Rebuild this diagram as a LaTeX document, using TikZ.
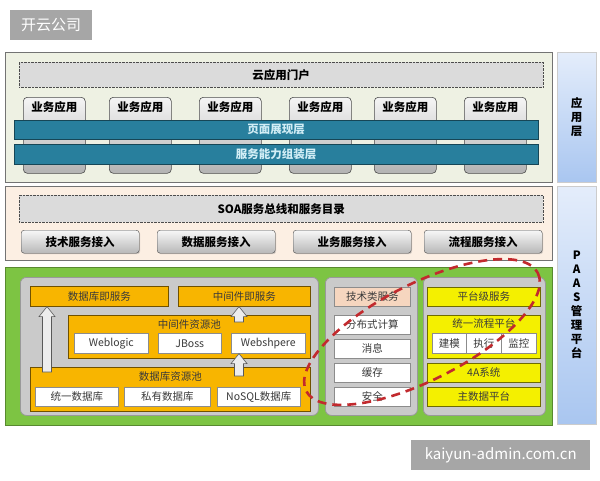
\documentclass[tikz,border=0pt]{standalone}
\usepackage{fontspec}
\setmainfont{Noto Sans CJK SC}
\usetikzlibrary{calc,shadows}

\definecolor{appback}{HTML}{EEF1E3}
\definecolor{soaback}{HTML}{FCEFE3}
\definecolor{paasgreen}{HTML}{7DC443}
\definecolor{barteal}{HTML}{287F9D}
\definecolor{bartext}{HTML}{D2EEF6}
\definecolor{panelgray}{HTML}{CACACA}
\definecolor{dborange}{HTML}{F8B500}
\definecolor{platyellow}{HTML}{F4F000}
\definecolor{techpeach}{HTML}{F6D6BF}
\definecolor{sidetop}{HTML}{E4EDFB}
\definecolor{sidebottom}{HTML}{A9C6F0}
\definecolor{loopred}{HTML}{C22A2E}
\definecolor{markgray}{HTML}{A6A6A6}
\definecolor{textgray}{HTML}{3A3A3A}

\tikzstyle{box}=[draw, anchor=north west, inner sep=0pt]
\tikzstyle{layer}=[box, draw=black!55, line width=0.8pt]
\tikzstyle{dotbox}=[box, draw=black!70, densely dotted, fill=black!14,
    font=\bfseries\fontsize{11.5}{14}\selectfont]
\tikzstyle{appbox}=[box, rounded corners=4pt, draw=black!70, line width=0.6pt,
    top color=black!4, bottom color=black!30]
\tikzstyle{apptext}=[anchor=north, inner sep=0pt, yshift=-4pt,
    font=\bfseries\fontsize{11.5}{14}\selectfont]
\tikzstyle{bar}=[box, fill=barteal, draw=barteal!55!black, text=bartext,
    font=\bfseries\fontsize{11.5}{14}\selectfont]
\tikzstyle{accbox}=[box, rounded corners=3pt, draw=black!70, top color=black!3,
    bottom color=black!28, font=\bfseries\fontsize{11.5}{14}\selectfont,
    drop shadow={opacity=0.3, shadow xshift=1pt, shadow yshift=-1pt}]
\tikzstyle{sidebar}=[box, draw=black!20, top color=sidetop, bottom color=sidebottom,
    align=center, font=\bfseries\fontsize{11.5}{14}\selectfont]
\tikzstyle{subpanel}=[box, rounded corners=6pt, fill=panelgray, draw=black!40, line width=0.8pt]
\tikzstyle{dbbox}=[box, fill=dborange, draw=black!55!dborange, line width=0.6pt,
    text=textgray, font=\fontsize{10.5}{12}\selectfont]
\tikzstyle{whitebox}=[box, fill=white, draw=black!45, line width=0.6pt,
    text=textgray, font=\fontsize{10.5}{12}\selectfont]
\tikzstyle{yellowbox}=[dbbox, fill=platyellow, draw=black!55!platyellow]
\tikzstyle{pooltext}=[anchor=north, inner sep=0pt, yshift=-4pt, text=textgray,
    font=\fontsize{10.5}{12}\selectfont]
\tikzstyle{tagbox}=[box, draw=none, fill=markgray, text=white]

\newcommand\liftarrow[2]{%
  \filldraw[blockarrow] ($(#1)+(-4.5,0)$) -- ($(#2)+(-4.5,10)$) -- ($(#2)+(-8,10)$)
    -- (#2) -- ($(#2)+(8,10)$) -- ($(#2)+(4.5,10)$) -- ($(#1)+(4.5,0)$) -- cycle;}

\begin{document}
\begin{tikzpicture}[x=1pt, y=-1pt]
    \tikzstyle{blockarrow}=[draw=black!65, line width=0.6pt, fill=black!7]
    \tikzstyle{redloop}=[draw=loopred, line width=2.6pt, dash pattern=on 9pt off 6pt]

  \useasboundingbox[fill=white] (0,0) rectangle (600,480);

  % marks
  \node[tagbox, minimum width=82pt, minimum height=30pt, font=\fontsize{15}{18}\selectfont]
      (tag) at (10,10) {开云公司};
  \node[tagbox, minimum width=179pt, minimum height=30pt, font=\fontsize{15}{18}\selectfont]
      (site) at (411,440) {kaiyun-admin.com.cn};

  % application layer
  \node[layer, fill=appback, minimum width=547pt, minimum height=130pt] (applayer) at (5,52) {};
  \node[sidebar, minimum width=39pt, minimum height=130pt] (appside) at (557,52) {应\\用\\层};
  \node[dotbox, minimum width=524pt, minimum height=25pt] (portal) at (19,62) {云应用门户};
  \foreach \x [count=\i] in {23,109,199,289,374,464}
        \node[appbox, minimum width=62pt, minimum height=76pt,
              label={[apptext]north:业务应用}] (app\i) at (\x,97) {};
  \node[bar, minimum width=524pt, minimum height=19pt] (pagebar) at (14,120) {页面展现层};
  \node[bar, minimum width=524pt, minimum height=20pt] (servbar) at (14,144) {服务能力组装层};

  % soa layer
  \node[layer, fill=soaback, minimum width=547pt, minimum height=74pt] (soalayer) at (5,186) {};
  \node[sidebar, minimum width=39pt, minimum height=238pt] (paasside) at (557,186)
      {P\\A\\A\\S\\管\\理\\平\\台};
  \node[dotbox, minimum width=524pt, minimum height=27pt] (soabus) at (19,195) {SOA服务总线和服务目录};
  \foreach \x/\t [count=\i] in {21/技术服务接入, 157/数据服务接入, 293/业务服务接入, 424/流程服务接入}
        \node[accbox, minimum width=118pt, minimum height=23pt] (acc\i) at (\x,230) {\t};

  % paas layer
  \node[box, fill=paasgreen, draw=paasgreen!70!black, line width=0.8pt,
        minimum width=547pt, minimum height=158pt] (paaslayer) at (5,267) {};
  \node[subpanel, minimum width=298pt, minimum height=138pt] (respanel) at (20,277) {};
  \node[subpanel, minimum width=92pt, minimum height=138pt] (techpanel) at (325,277) {};
  \node[subpanel, minimum width=122pt, minimum height=138pt] (platpanel) at (423,277) {};

  \node[dbbox, minimum width=138pt, minimum height=20pt] (dbsvc) at (30,286) {数据库即服务};
  \node[dbbox, minimum width=132pt, minimum height=20pt] (midsvc) at (178,286) {中间件即服务};
  \node[dbbox, minimum width=242pt, minimum height=43pt,
        label={[pooltext]north:中间件资源池}] (midpool) at (68,315) {};
  \node[whitebox, minimum width=74pt, minimum height=20pt] (weblogic) at (74,333) {Weblogic};
  \node[whitebox, minimum width=63pt, minimum height=20pt] (jboss) at (158,333) {JBoss};
  \node[whitebox, minimum width=74pt, minimum height=20pt] (websphere) at (231,333) {Webshpere};
  \node[dbbox, minimum width=280pt, minimum height=44pt,
        label={[pooltext]north:数据库资源池}] (dbpool) at (30,367) {};
  \node[whitebox, minimum width=83pt, minimum height=19pt] (unidb) at (35,387) {统一数据库};
  \node[whitebox, minimum width=86pt, minimum height=19pt] (privdb) at (124,387) {私有数据库};
  \node[whitebox, minimum width=83pt, minimum height=19pt] (nosqldb) at (217,387) {NoSQL数据库};

  \coordinate (lift1s) at ($(dbpool.north west)+(17,5)$);
  \coordinate (lift1e) at (lift1s |- dbsvc.south);
  \coordinate (lift2s) at ($(midpool.north west)+(171,7)$);
  \coordinate (lift2e) at (lift2s |- midsvc.south);
  \coordinate (lift3s) at ($(dbpool.north west)+(209,9)$);
  \coordinate (lift3e) at (lift3s |- websphere.south);
  \liftarrow{lift1s}{lift1e}
  \liftarrow{lift2s}{lift2e}
  \liftarrow{lift3s}{lift3e}

  \node[whitebox, fill=techpeach, minimum width=76pt, minimum height=19pt] (techsvc) at (334,287) {技术类服务};
  \foreach \y/\t [count=\i] in {315/分布式计算, 339/消息, 363/缓存, 387/安全}
        \node[whitebox, minimum width=76pt, minimum height=19pt] (tech\i) at (334,\y) {\t};

  \node[yellowbox, minimum width=113pt, minimum height=19pt] (platsvc) at (427,287) {平台级服务};
  \node[yellowbox, minimum width=113pt, minimum height=43pt,
        label={[pooltext, yshift=1pt]north:统一流程平台}] (flowpool) at (427,315) {};
  \node[whitebox, minimum width=34pt, minimum height=20pt] (model) at (432,333) {建模};
  \node[whitebox, minimum width=35pt, minimum height=20pt] (run) at (466,333) {执行};
  \node[whitebox, minimum width=35pt, minimum height=20pt] (watch) at (501,333) {监控};
  \node[yellowbox, minimum width=113pt, minimum height=19pt] (fouras) at (427,363) {4A系统};
  \node[yellowbox, minimum width=113pt, minimum height=19pt] (masterdata) at (427,387) {主数据平台};

  % highlight
  \draw[redloop, rotate around={27:(422,332)}] (422,332) ellipse [x radius=130, y radius=48];

\end{tikzpicture}
\end{document}
